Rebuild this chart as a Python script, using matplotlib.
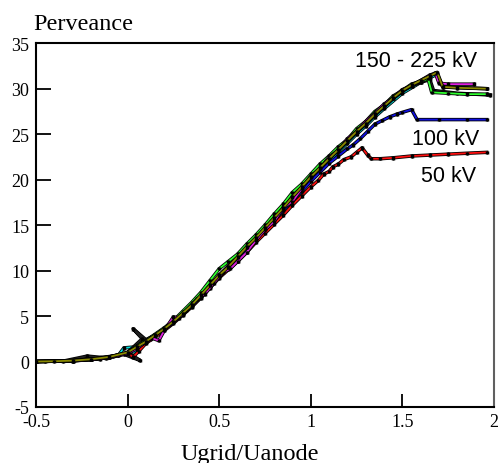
import matplotlib
matplotlib.use("Agg")
import matplotlib.pyplot as plt
import matplotlib.patheffects as pe

# 50 kV
red_x = [-0.5, -0.45, -0.3, -0.2, -0.12, -0.05, 0.0, 0.03, 0.06, 0.1, 0.15, 0.2, 0.25, 0.3,
         0.35, 0.4, 0.45, 0.5, 0.55, 0.6, 0.65, 0.7, 0.75, 0.8, 0.85, 0.9, 0.95, 1.0, 1.04,
         1.07, 1.1, 1.12, 1.15, 1.18, 1.22, 1.25, 1.28, 1.31, 1.33, 1.38, 1.45, 1.55, 1.65,
         1.75, 1.85, 1.96]
red_y = [0, 0.02, 0.1, 0.25, 0.45, 0.7, 0.9, 0.5, 1.1, 2.0, 2.7, 3.4, 4.2, 5.1,
         6.0, 7.0, 8.1, 9.2, 10.1, 11.0, 12.0, 13.1, 14.1, 15.1, 16.1, 17.2, 18.2, 19.2, 19.9,
         20.6, 20.9, 21.4, 21.7, 22.2, 22.5, 23.0, 23.5, 22.7, 22.3, 22.3, 22.4, 22.6, 22.7,
         22.8, 22.9, 23.0]

# 100 kV
blue_x = [-0.5, -0.3, -0.2, -0.1, 0.0, 0.05, 0.1, 0.15, 0.2, 0.25, 0.3, 0.35, 0.4, 0.45,
          0.5, 0.55, 0.6, 0.65, 0.7, 0.75, 0.8, 0.85, 0.9, 0.95, 1.0, 1.05, 1.1, 1.15, 1.2,
          1.23, 1.27, 1.31, 1.35, 1.39, 1.43, 1.47, 1.5, 1.55, 1.58, 1.7, 1.85, 1.96]
blue_y = [0, 0.08, 0.22, 0.45, 0.95, 1.5, 2.1, 2.9, 3.5, 4.3, 5.2, 6.1, 7.1, 8.2,
          9.3, 10.3, 11.3, 12.3, 13.4, 14.5, 15.6, 16.6, 17.7, 18.7, 19.8, 20.8, 21.8, 22.6, 23.4,
          23.8, 24.5, 25.3, 26.1, 26.5, 26.9, 27.2, 27.4, 27.7, 26.6, 26.6, 26.6, 26.6]

# 150 - 225 kV group
cyan_x = [-0.5, -0.3, -0.15, -0.05, -0.02, 0.04, 0.05, 0.0, 0.08, 0.12, 0.18, 0.25, 0.3,
          0.35, 0.4, 0.45, 0.5, 0.55, 0.6, 0.65, 0.7, 0.75, 0.8, 0.85, 0.9, 0.95, 1.0, 1.05,
          1.1, 1.15, 1.2, 1.25, 1.3, 1.35, 1.4, 1.5, 1.6, 1.65, 1.69, 1.72, 1.96]
cyan_y = [0, 0.08, 0.3, 0.7, 1.5, 1.6, 1.1, 1.0, 1.9, 2.5, 3.2, 4.3, 5.2,
          6.1, 7.1, 8.2, 9.3, 10.3, 11.3, 12.3, 13.4, 14.5, 15.6, 16.7, 17.8, 18.9, 20.0, 21.0,
          22.0, 23.0, 24.0, 25.0, 25.9, 26.9, 27.8, 29.5, 30.7, 31.2, 31.6, 30.2, 30.0]

black_x = [-0.5, -0.35, -0.22, -0.12, -0.2, -0.08, -0.02, 0.07, 0.0, 0.08, 0.03, 0.1, 0.15,
           0.2, 0.25, 0.3, 0.35, 0.4, 0.45, 0.5, 0.55, 0.6, 0.65, 0.7, 0.75, 0.8, 0.85, 0.9,
           0.95, 1.0, 1.05, 1.1, 1.15, 1.2, 1.25, 1.3, 1.35, 1.4, 1.45, 1.5, 1.55, 1.6, 1.65,
           1.67, 1.8, 1.98]
black_y = [0, 0.05, 0.6, 0.4, 0.3, 0.6, 0.8, 0.1, 1.0, 2.5, 3.6, 2.4, 2.9,
           3.6, 4.4, 5.3, 6.3, 7.3, 8.3, 9.5, 10.5, 11.5, 12.5, 13.6, 14.7, 15.8, 16.9, 18.0,
           19.1, 20.2, 21.2, 22.3, 23.2, 24.2, 25.2, 26.1, 27.1, 28.0, 28.9, 29.7, 30.3, 30.7, 31.0,
           29.8, 29.5, 29.3]

green_x = [-0.5, -0.3, -0.2, -0.1, 0.0, 0.05, 0.1, 0.15, 0.2, 0.25, 0.3, 0.35, 0.4, 0.45,
           0.5, 0.55, 0.6, 0.65, 0.7, 0.75, 0.8, 0.85, 0.9, 0.95, 1.0, 1.05, 1.1, 1.15, 1.2,
           1.25, 1.3, 1.35, 1.4, 1.45, 1.5, 1.55, 1.6, 1.64, 1.66, 1.75, 1.85, 1.96]
green_y = [0, 0.1, 0.25, 0.5, 1.0, 1.7, 2.3, 3.0, 3.7, 4.5, 5.5, 6.5, 7.6, 8.9,
           10.2, 11.0, 11.8, 12.9, 13.9, 15.0, 16.2, 17.3, 18.6, 19.5, 20.6, 21.7, 22.6, 23.6, 24.4,
           25.6, 26.4, 27.5, 28.2, 29.2, 29.8, 30.5, 30.8, 31.1, 29.6, 29.5, 29.4, 29.4]

magenta_x = [-0.5, -0.3, -0.2, -0.1, 0.0, 0.05, 0.1, 0.13, 0.17, 0.2, 0.25, 0.28, 0.32, 0.38,
             0.42, 0.47, 0.52, 0.56, 0.6, 0.65, 0.7, 0.75, 0.8, 0.85, 0.9, 0.95, 1.0, 1.05,
             1.1, 1.15, 1.2, 1.25, 1.3, 1.35, 1.4, 1.45, 1.5, 1.55, 1.6, 1.65, 1.68, 1.70,
             1.75, 1.89]
magenta_y = [0, 0.08, 0.2, 0.45, 0.9, 1.4, 2.2, 2.6, 2.3, 3.4, 4.9, 4.8, 5.6, 6.9,
             7.4, 8.6, 9.8, 10.2, 11.0, 12.0, 13.3, 14.5, 15.4, 16.9, 17.6, 19.0, 20.4, 21.2,
             22.5, 23.2, 24.5, 25.3, 26.4, 27.3, 28.3, 29.0, 29.9, 30.3, 30.9, 31.5, 31.7, 30.6,
             30.5, 30.5]

olive_x = [-0.5, -0.4, -0.3, -0.2, -0.1, 0.0, 0.05, 0.1, 0.15, 0.2, 0.25, 0.3, 0.35, 0.4,
           0.45, 0.5, 0.55, 0.6, 0.65, 0.7, 0.75, 0.8, 0.85, 0.9, 0.95, 1.0, 1.05, 1.1, 1.15,
           1.2, 1.25, 1.3, 1.35, 1.4, 1.45, 1.5, 1.55, 1.6, 1.65, 1.69, 1.72, 1.8, 1.96]
olive_y = [0, 0.03, 0.1, 0.25, 0.5, 1.0, 1.6, 2.2, 2.9, 3.6, 4.4, 5.3, 6.2, 7.3,
           8.4, 9.5, 10.4, 11.5, 12.6, 13.6, 14.7, 15.8, 16.9, 18.1, 19.2, 20.3, 21.3, 22.3, 23.3,
           24.3, 25.3, 26.2, 27.2, 28.1, 29.0, 29.8, 30.4, 30.9, 31.4, 31.8, 30.2, 30.1, 30.0]

curves = [
    (cyan_x, cyan_y, "#00e0e0"),
    (black_x, black_y, "#202020"),
    (red_x, red_y, "#ff1010"),
    (blue_x, blue_y, "#1010e0"),
    (green_x, green_y, "#30ff30"),
    (magenta_x, magenta_y, "#e020e0"),
    (olive_x, olive_y, "#8a8a00"),
]

xticks = [-0.5, 0, 0.5, 1, 1.5, 2]
xtick_labels = ["-0.5", "0", "0.5", "1", "1.5", "2"]
yticks = [-5, 0, 5, 10, 15, 20, 25, 30, 35]
ytick_labels = ["-5", "0", "5", "10", "15", "20", "25", "30", "35"]

serif = "Liberation Serif"
sans = "Liberation Sans"

plt.rcParams["xtick.direction"] = "in"
plt.rcParams["ytick.direction"] = "in"
plt.rcParams["xtick.major.size"] = 9.5
plt.rcParams["ytick.major.size"] = 11
plt.rcParams["xtick.major.width"] = 1.3
plt.rcParams["ytick.major.width"] = 1.3
plt.rcParams["xtick.color"] = "black"
plt.rcParams["ytick.color"] = "black"

fig = plt.figure(figsize=(5, 4.64), dpi=100)
ax = fig.add_axes([0.072, 0.1207, 0.916, 0.784])

for cx, cy, col in curves:
    ax.plot(cx, cy, color=col, lw=1.3, marker="|", ms=2.5, mec="black", mew=0.7,
            path_effects=[pe.Stroke(linewidth=2.5, foreground="black"), pe.Normal()])

ax.set_xlim(-0.5, 2)
ax.set_ylim(-5, 35)
ax.set_xticks(xticks)
ax.set_xticklabels(xtick_labels, family=serif, fontsize=13)
ax.set_yticks(yticks)
ax.set_yticklabels(ytick_labels, family=serif, fontsize=13)
ax.tick_params(axis="y", pad=5)
ax.tick_params(axis="x", pad=4)

for side in ["left", "top", "bottom"]:
    ax.spines[side].set_linewidth(1.5)
    ax.spines[side].set_color("black")
ax.spines["right"].set_linewidth(1.5)
ax.spines["right"].set_color("#606060")

fig.text(0.5, 0.008, "Ugrid/Uanode", fontsize=17.5, family=serif, ha="center", va="baseline")
fig.text(0.066, 0.935, "Perveance", fontsize=17.5, family=serif, va="baseline", ha="left")

ax.text(1.91, 32.5, "150 - 225 kV", fontsize=15.5, family=sans, ha="right", va="baseline")
ax.text(1.92, 23.9, "100 kV", fontsize=15.5, family=sans, ha="right", va="baseline")
ax.text(1.90, 19.8, "50 kV", fontsize=15.5, family=sans, ha="right", va="baseline")

fig.savefig("out.png", dpi=100)
